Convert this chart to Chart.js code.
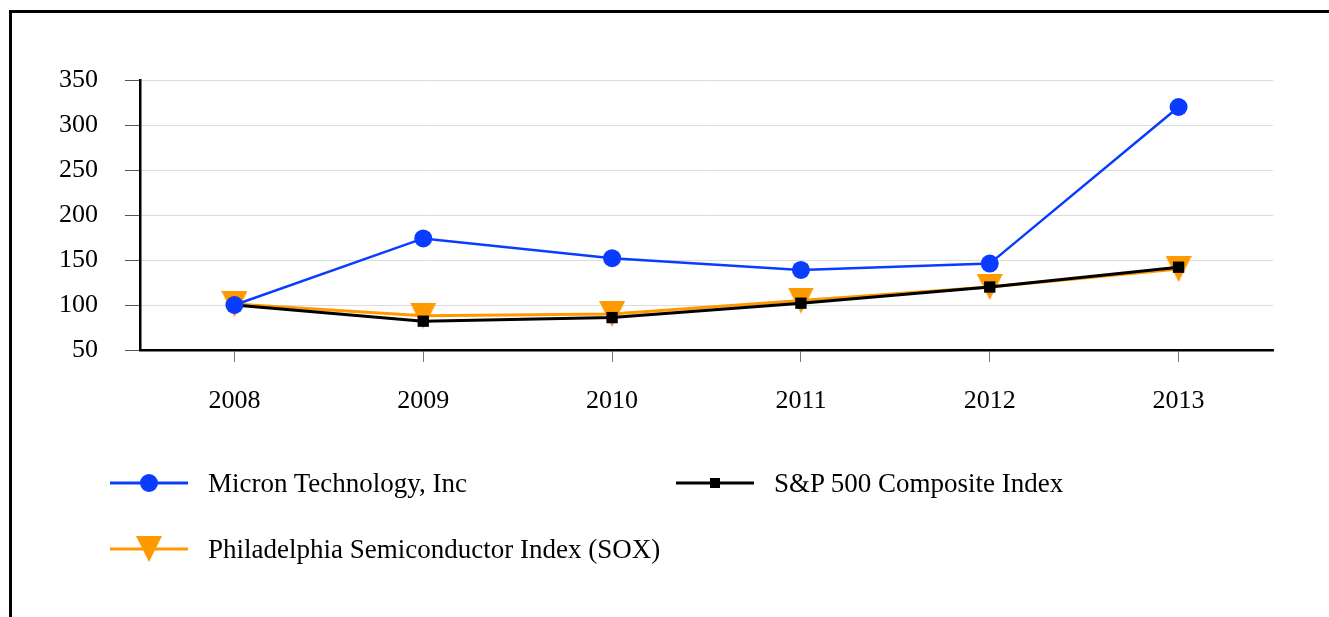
<!DOCTYPE html>
<html>
<head>
<meta charset="utf-8">
<script src="https://cdn.jsdelivr.net/npm/chart.js@4.4.1/dist/chart.umd.min.js"></script>
<style>
  html, body { margin: 0; padding: 0; background: #fff; }
  #wrap { position: relative; width: 1329px; height: 617px; overflow: hidden; }
  #frame { position: absolute; left: 9px; top: 10px; right: -10px; bottom: -10px;
           border-left: 3px solid #000; border-top: 3px solid #000; }
  #chart { position: absolute; left: 0; top: 0; }
  .leg { position: absolute; display: flex; align-items: center;
         font-family: "Liberation Serif", "Times New Roman", serif; font-size: 27px; color: #000; }
  .leg svg { margin-right: 20px; }
</style>
</head>
<body>
<div id="wrap">
  <div id="frame"></div>
  <canvas id="chart" width="1329" height="617"></canvas>
  <div id="legend"></div>
</div>
<script>
const years = ["2008", "2009", "2010", "2011", "2012", "2013"];
const micron = [100, 174, 152, 139, 146, 320];
const sp500 = [100, 82, 86, 102, 120, 142];
const sox = [101, 88, 90, 105, 120, 140];

const blue = "#0a3cff";
const orange = "#ff9900";

// down pointing triangle, centred on its box
function triangle(size, color) {
  const c = document.createElement("canvas");
  c.width = size; c.height = size;
  const g = c.getContext("2d");
  g.fillStyle = color;
  g.beginPath();
  g.moveTo(0, 0);
  g.lineTo(size, 0);
  g.lineTo(size / 2, size);
  g.closePath();
  g.fill();
  return c;
}

const font = { family: "'Liberation Serif', 'Times New Roman', serif", size: 26 };

const ctx = document.getElementById("chart").getContext("2d");
window.myChart = new Chart(ctx, {
  type: "line",
  data: {
    labels: years,
    datasets: [
      {
        label: "Micron Technology, Inc",
        data: micron,
        borderColor: blue,
        backgroundColor: blue,
        borderWidth: 2.5,
        pointStyle: "circle",
        pointRadius: 9,
        pointBorderWidth: 0,
      },
      {
        label: "S&P 500 Composite Index",
        data: sp500,
        borderColor: "#000",
        backgroundColor: "#000",
        borderWidth: 3,
        pointStyle: "rect",
        pointRadius: 8,
        pointBorderWidth: 0,
      },
      {
        label: "Philadelphia Semiconductor Index (SOX)",
        data: sox,
        borderColor: orange,
        backgroundColor: orange,
        borderWidth: 3,
        pointStyle: triangle(26, orange),
        pointRadius: 13,
      },
    ],
  },
  options: {
    responsive: false,
    animation: false,
    layout: { padding: { top: 80, right: 56, left: 0, bottom: 207 } },
    scales: {
      x: {
        offset: true,
        afterFit: (s) => { s.height = 60; },
        grid: { drawOnChartArea: false, tickLength: 12, tickColor: "#777", offset: false },
        border: { color: "#000", width: 2.5 },
        ticks: { font: font, color: "#000", padding: 24, maxRotation: 0 },
      },
      y: {
        min: 50,
        max: 350,
        afterFit: (s) => { s.width = 140; },
        grid: { color: "#dcdcdc", tickLength: 15, tickColor: "#555" },
        border: { color: "#000", width: 2.5 },
        ticks: { stepSize: 50, font: font, color: "#000", padding: 27 },
      },
    },
    plugins: {
      legend: { display: false },
      tooltip: { enabled: false },
    },
  },
});

// html legend, two columns
const legendPos = [[110, 483], [676, 483], [110, 549]];
const legend = document.getElementById("legend");
window.myChart.data.datasets.forEach((ds, i) => {
  const item = document.createElement("div");
  item.className = "leg";
  item.style.left = legendPos[i][0] + "px";
  item.style.top = (legendPos[i][1] - 20) + "px";
  item.style.height = "40px";
  let marker = "";
  if (i === 0) marker = '<circle cx="39" cy="20" r="9" fill="' + ds.borderColor + '"/>';
  if (i === 1) marker = '<rect x="34" y="15" width="10" height="10" fill="#000"/>';
  if (i === 2) marker = '<polygon points="26,7 52,7 39,33" fill="' + ds.borderColor + '"/>';
  item.innerHTML =
    '<svg width="78" height="40"><line x1="0" y1="20" x2="78" y2="20" stroke="' +
    ds.borderColor + '" stroke-width="3"/>' + marker + "</svg><span>" + ds.label + "</span>";
  legend.appendChild(item);
});
</script>
</body>
</html>
